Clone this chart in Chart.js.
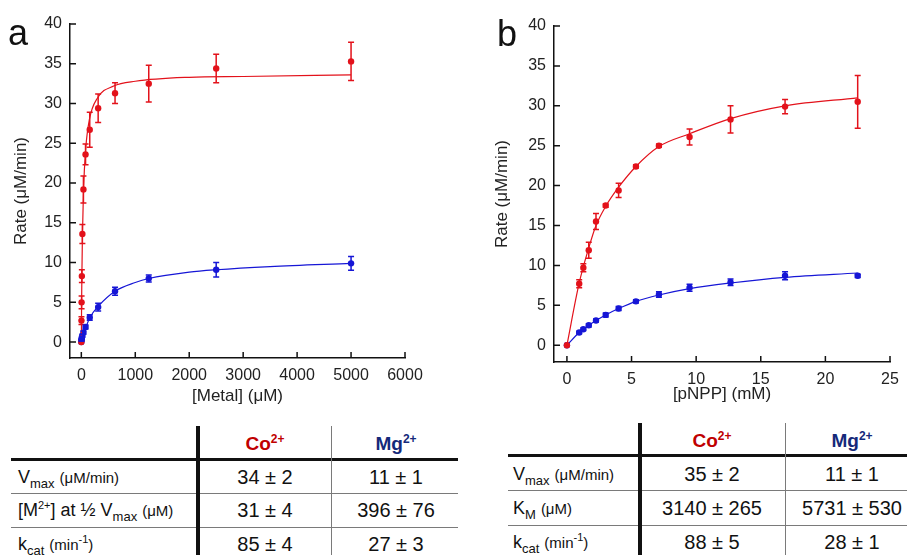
<!DOCTYPE html>
<html>
<head>
<meta charset="utf-8">
<script src="https://cdn.jsdelivr.net/npm/chart.js@4"></script>
<style>
  html, body { margin: 0; padding: 0; background: #fff; }
  body { width: 907px; height: 555px; position: relative; overflow: hidden;
         font-family: "Liberation Sans", Arial, sans-serif; color: #111; }
  canvas { position: absolute; }
  .panel { position: absolute; font-size: 36px; line-height: 1; color: #111; }
  .ln { position: absolute; background: #111; }
  .thin { background: #7a7a7a; }
  .txt { position: absolute; white-space: nowrap; transform: translateY(-50%); line-height: 1; }
  .val { font-size: 20px; transform: translate(-50%, -50%); }
  .hdr { font-size: 19px; font-weight: bold; transform: translate(-50%, -50%); }
  .hdr sup { font-size: 12px; vertical-align: 0; position: relative; top: -7px; }
  .lab { font-size: 18px; }
  .lab small { font-size: 15px; }
  .lab sub { font-size: 13px; vertical-align: 0; position: relative; top: 5px; }
  .lab sup { font-size: 11px; vertical-align: 0; position: relative; top: -7px; }
</style>
</head>
<body>
<canvas id="chartA" width="460" height="410" style="left:0;top:0"></canvas>
<canvas id="chartB" width="437" height="410" style="left:470px;top:0"></canvas>
<div class="panel" style="left:8px;top:15px">a</div>
<div class="panel" style="left:497px;top:16px">b</div>
<div id="tables"></div>
<script>
// ── Data: panel a, metal titration ([Metal] in µM) ────────────────────────────
const metalConc = [0, 2.4, 4.9, 9.8, 19.5, 39, 78, 156, 312, 625, 1250, 2500, 5000];
const coRateA   = [0, 2.7, 5.0, 8.3, 13.6, 19.2, 23.6, 26.7, 29.4, 31.3, 32.5, 34.4, 35.3];
const coErrA    = [0, 0.5, 0.8, 0.8, 1.2, 1.7, 1.3, 2.2, 1.8, 1.3, 2.3, 1.8, 2.4];
const mgRateA   = [0, 0.2, 0.35, 0.55, 0.8, 1.2, 1.9, 3.1, 4.4, 6.4, 8.0, 9.1, 9.9];
const mgErrA    = [0, 0.1, 0.1, 0.15, 0.2, 0.2, 0.25, 0.35, 0.5, 0.5, 0.45, 0.9, 0.85];

// fitted curves
const coFitAX = [0, 5, 10, 20, 40, 80, 150, 300, 600, 1000, 2000, 3000, 5000];
const coFitAY = [0, 4.7, 8.2, 13.2, 19.0, 24.2, 28.0, 30.7, 32.2, 32.8, 33.3, 33.4, 33.6];
const mgFitAX = [0, 20, 40, 80, 160, 312, 625, 1000, 1250, 2000, 2500, 3500, 5000];
const mgFitAY = [0, 0.5, 1.0, 1.8, 3.1, 4.5, 6.4, 7.5, 8.0, 8.8, 9.1, 9.5, 9.9];

const metalTicks = [0, 1000, 2000, 3000, 4000, 5000, 6000];

// ── Data: panel b, substrate titration ([pNPP] in mM) ────────────────────────
const pnppConc = [0, 0.95, 1.27, 1.69, 2.25, 3.0, 4.0, 5.34, 7.12, 9.49, 12.66, 16.88, 22.5];
const coRateB  = [0, 7.7, 9.7, 11.9, 15.5, 17.5, 19.4, 22.4, 25.0, 26.1, 28.3, 29.9, 30.5];
const coErrB   = [0, 0.5, 0.5, 1.0, 1.0, 0.2, 0.9, 0.2, 0.2, 1.0, 1.7, 0.9, 3.3];
const mgRateB  = [0, 1.6, 2.0, 2.5, 3.1, 3.8, 4.6, 5.5, 6.35, 7.2, 7.9, 8.7, 8.7];
const mgErrB   = [0, 0.15, 0.15, 0.2, 0.2, 0.25, 0.25, 0.2, 0.35, 0.45, 0.4, 0.5, 0.2];

const coFitBX = [0, 0.95, 1.69, 2.25, 3.0, 4.0, 5.34, 7.12, 9.49, 12.66, 16.88, 22.5];
const coFitBY = [0, 7.8, 12.2, 15.0, 17.4, 19.8, 22.4, 24.9, 26.5, 28.4, 30.0, 31.0];
const mgFitBX = [0, 0.95, 1.69, 2.25, 3.0, 4.0, 5.34, 7.12, 9.49, 12.66, 16.88, 22.5];
const mgFitBY = [0, 1.6, 2.5, 3.1, 3.8, 4.6, 5.5, 6.3, 7.1, 7.8, 8.5, 9.05];

const pnppTicks = [0, 5, 10, 15, 20, 25];
const rateTicks = [0, 5, 10, 15, 20, 25, 30, 35, 40];

// ── Data: kinetic parameter tables ───────────────────────────────────────────
const metalHeaders = ["Co", "Mg"];
const tableALabels = [
  'V<sub>max</sub> <small>(μM/min)</small>',
  '[M<sup>2+</sup>] at ½ V<sub>max</sub> <small>(μM)</small>',
  'k<sub>cat</sub> <small>(min<sup>-1</sup>)</small>',
];
const tableACo = ["34 ± 2", "31 ± 4", "85 ± 4"];
const tableAMg = ["11 ± 1", "396 ± 76", "27 ± 3"];
const tableBLabels = [
  'V<sub>max</sub> <small>(μM/min)</small>',
  'K<sub>M</sub> <small>(μM)</small>',
  'k<sub>cat</sub> <small>(min<sup>-1</sup>)</small>',
];
const tableBCo = ["35 ± 2", "3140 ± 265", "88 ± 5"];
const tableBMg = ["11 ± 1", "5731 ± 530", "28 ± 1"];

const RED  = "#e3121b";
const BLUE = "#1616d6";
const FONT = "'Liberation Sans', Arial, sans-serif";

// ── Plugins ──────────────────────────────────────────────────────────────────

const errorBars = {
  id: "errorBars",
  afterDatasetsDraw(chart) {
    const { ctx, scales: { x, y } } = chart;
    chart.data.datasets.forEach((ds) => {
      if (!ds.errors) return;
      ctx.save();
      ctx.strokeStyle = ds.borderColor;
      ctx.lineWidth = 1.5;
      ds.data.forEach((p, i) => {
        const e = ds.errors[i];
        if (!e) return;
        const px  = x.getPixelForValue(p.x);
        const top = y.getPixelForValue(p.y + e);
        const bot = y.getPixelForValue(p.y - e);
        ctx.beginPath();
        ctx.moveTo(px, top); ctx.lineTo(px, bot);
        ctx.moveTo(px - 3, top); ctx.lineTo(px + 3, top);
        ctx.moveTo(px - 3, bot); ctx.lineTo(px + 3, bot);
        ctx.stroke();
      });
      ctx.restore();
    });
  },
};

// tick marks point into the plot area
const innerTicks = {
  id: "innerTicks",
  afterDraw(chart) {
    const { ctx, chartArea, scales: { x, y } } = chart;
    ctx.save();
    ctx.strokeStyle = "#111";
    ctx.lineWidth = 1.5;
    ctx.beginPath();
    x.ticks.forEach((t) => {
      const px = x.getPixelForValue(t.value);
      ctx.moveTo(px, chartArea.bottom);
      ctx.lineTo(px, chartArea.bottom - 6);
    });
    y.ticks.forEach((t) => {
      const py = y.getPixelForValue(t.value);
      ctx.moveTo(chartArea.left, py);
      ctx.lineTo(chartArea.left + 6, py);
    });
    ctx.stroke();
    ctx.restore();
  },
};

// ── Charts ───────────────────────────────────────────────────────────────────

function pts(xs, ys) {
  return xs.map((v, i) => ({ x: v, y: ys[i] }));
}

function fitLine(xs, ys, color) {
  return {
    data: pts(xs, ys),
    showLine: true,
    borderColor: color,
    borderWidth: 1.2,
    pointRadius: 0,
    cubicInterpolationMode: "monotone",
  };
}

function markers(xs, ys, errs, color) {
  return {
    data: pts(xs, ys),
    errors: errs,
    showLine: false,
    backgroundColor: color,
    borderColor: color,
    pointRadius: 3.2,
    pointBorderWidth: 0,
  };
}

function makeChart(id, cfg) {
  const tickFont  = { family: FONT, size: 16 };
  const titleFont = { family: FONT, size: 17 };
  const fixedTicks = (values) => (axis) => {
    axis.ticks = values.map((v) => ({ value: v }));
  };
  return new Chart(document.getElementById(id), {
    type: "scatter",
    data: {
      datasets: [
        fitLine(cfg.coFitX, cfg.coFitY, RED),
        markers(cfg.xs, cfg.coY, cfg.coErr, RED),
        fitLine(cfg.mgFitX, cfg.mgFitY, BLUE),
        markers(cfg.xs, cfg.mgY, cfg.mgErr, BLUE),
      ],
    },
    options: {
      responsive: false,
      animation: false,
      layout: { padding: cfg.padding },
      plugins: { legend: { display: false }, tooltip: { enabled: false } },
      scales: {
        x: {
          type: "linear",
          min: cfg.xMin,
          max: cfg.xMax,
          afterBuildTicks: fixedTicks(cfg.xTicks),
          afterFit: (s) => { s.height = cfg.xHeight; },
          grid: { display: false, drawTicks: false },
          border: { display: true, color: "#111", width: 1.5 },
          ticks: {
            color: "#222", font: tickFont, padding: 8, maxRotation: 0, autoSkip: false,
            callback: (v) => String(v),
          },
          title: { display: true, text: cfg.xTitle, color: "#222", font: titleFont, padding: { top: 0, bottom: cfg.xTitlePad } },
        },
        y: {
          min: cfg.yMin,
          max: 40,
          afterBuildTicks: fixedTicks(rateTicks),
          afterFit: (s) => { s.width = cfg.yWidth; },
          grid: { display: false, drawTicks: false },
          border: { display: true, color: "#111", width: 1.5 },
          ticks: { color: "#222", font: tickFont, padding: 8, autoSkip: false, callback: (v) => String(v) },
          title: { display: true, text: "Rate (μM/min)", color: "#222", font: titleFont, padding: { top: cfg.yTitlePad, bottom: 0 } },
        },
      },
    },
    plugins: [errorBars, innerTicks],
  });
}

makeChart("chartA", {
  xs: metalConc, coY: coRateA, coErr: coErrA, mgY: mgRateA, mgErr: mgErrA,
  coFitX: coFitAX, coFitY: coFitAY, mgFitX: mgFitAX, mgFitY: mgFitAY,
  xMin: -210, xMax: 6000, xTicks: metalTicks, yMin: -2,
  xTitle: "[Metal] (μM)",
  padding: { left: 0, right: 55, top: 24, bottom: 0 },
  xHeight: 52, yWidth: 70, xTitlePad: 3, yTitlePad: 11,
});

makeChart("chartB", {
  xs: pnppConc, coY: coRateB, coErr: coErrB, mgY: mgRateB, mgErr: mgErrB,
  coFitX: coFitBX, coFitY: coFitBY, mgFitX: mgFitBX, mgFitY: mgFitBY,
  xMin: -1, xMax: 25, xTicks: pnppTicks, yMin: -2.1,
  xTitle: "[pNPP] (mM)",
  padding: { left: 0, right: 17, top: 26, bottom: 0 },
  xHeight: 48, yWidth: 84, xTitlePad: 5, yTitlePad: 22,
});

// ── Tables ───────────────────────────────────────────────────────────────────

function buildTable(g, labels, coVals, mgVals) {
  const host = document.getElementById("tables");
  const add = (cls, style, html) => {
    const d = document.createElement("div");
    d.className = cls;
    Object.assign(d.style, style);
    if (html != null) d.innerHTML = html;
    host.appendChild(d);
  };
  add("ln", { left: g.left + "px", width: g.right - g.left + "px", top: g.thickY + "px", height: "3px" });
  g.thinY.forEach((yy) =>
    add("ln thin", { left: g.left + "px", width: g.right - g.left + "px", top: yy + "px", height: "1px" }));
  add("ln", { left: g.thickX + "px", width: "4px", top: g.top + "px", height: 555 - g.top + "px" });
  add("ln thin", { left: g.thinX + "px", width: "1px", top: g.top + "px", height: 555 - g.top + "px" });

  add("txt hdr", { left: g.col1 + "px", top: g.hdrY + "px", color: "#c00000" }, metalHeaders[0] + "<sup>2+</sup>");
  add("txt hdr", { left: g.col2 + "px", top: g.hdrY + "px", color: "#15297a" }, metalHeaders[1] + "<sup>2+</sup>");
  labels.forEach((lab, i) => {
    add("txt lab", { left: g.labelX + "px", top: g.rowY[i] + "px" }, lab);
    add("txt val", { left: g.col1 + "px", top: g.rowY[i] + "px" }, coVals[i]);
    add("txt val", { left: g.col2 + "px", top: g.rowY[i] + "px" }, mgVals[i]);
  });
}

buildTable({
  left: 11, right: 458, top: 426, thickY: 458, thinY: [493, 527],
  thickX: 196, thinX: 331, col1: 265, col2: 396, hdrY: 443,
  rowY: [477, 510, 544], labelX: 18,
}, tableALabels, tableACo, tableAMg);

buildTable({
  left: 508, right: 907, top: 423, thickY: 454, thinY: [490, 525],
  thickX: 638, thinX: 785, col1: 712, col2: 852, hdrY: 440,
  rowY: [474, 508, 542], labelX: 513,
}, tableBLabels, tableBCo, tableBMg);
</script>
</body>
</html>
